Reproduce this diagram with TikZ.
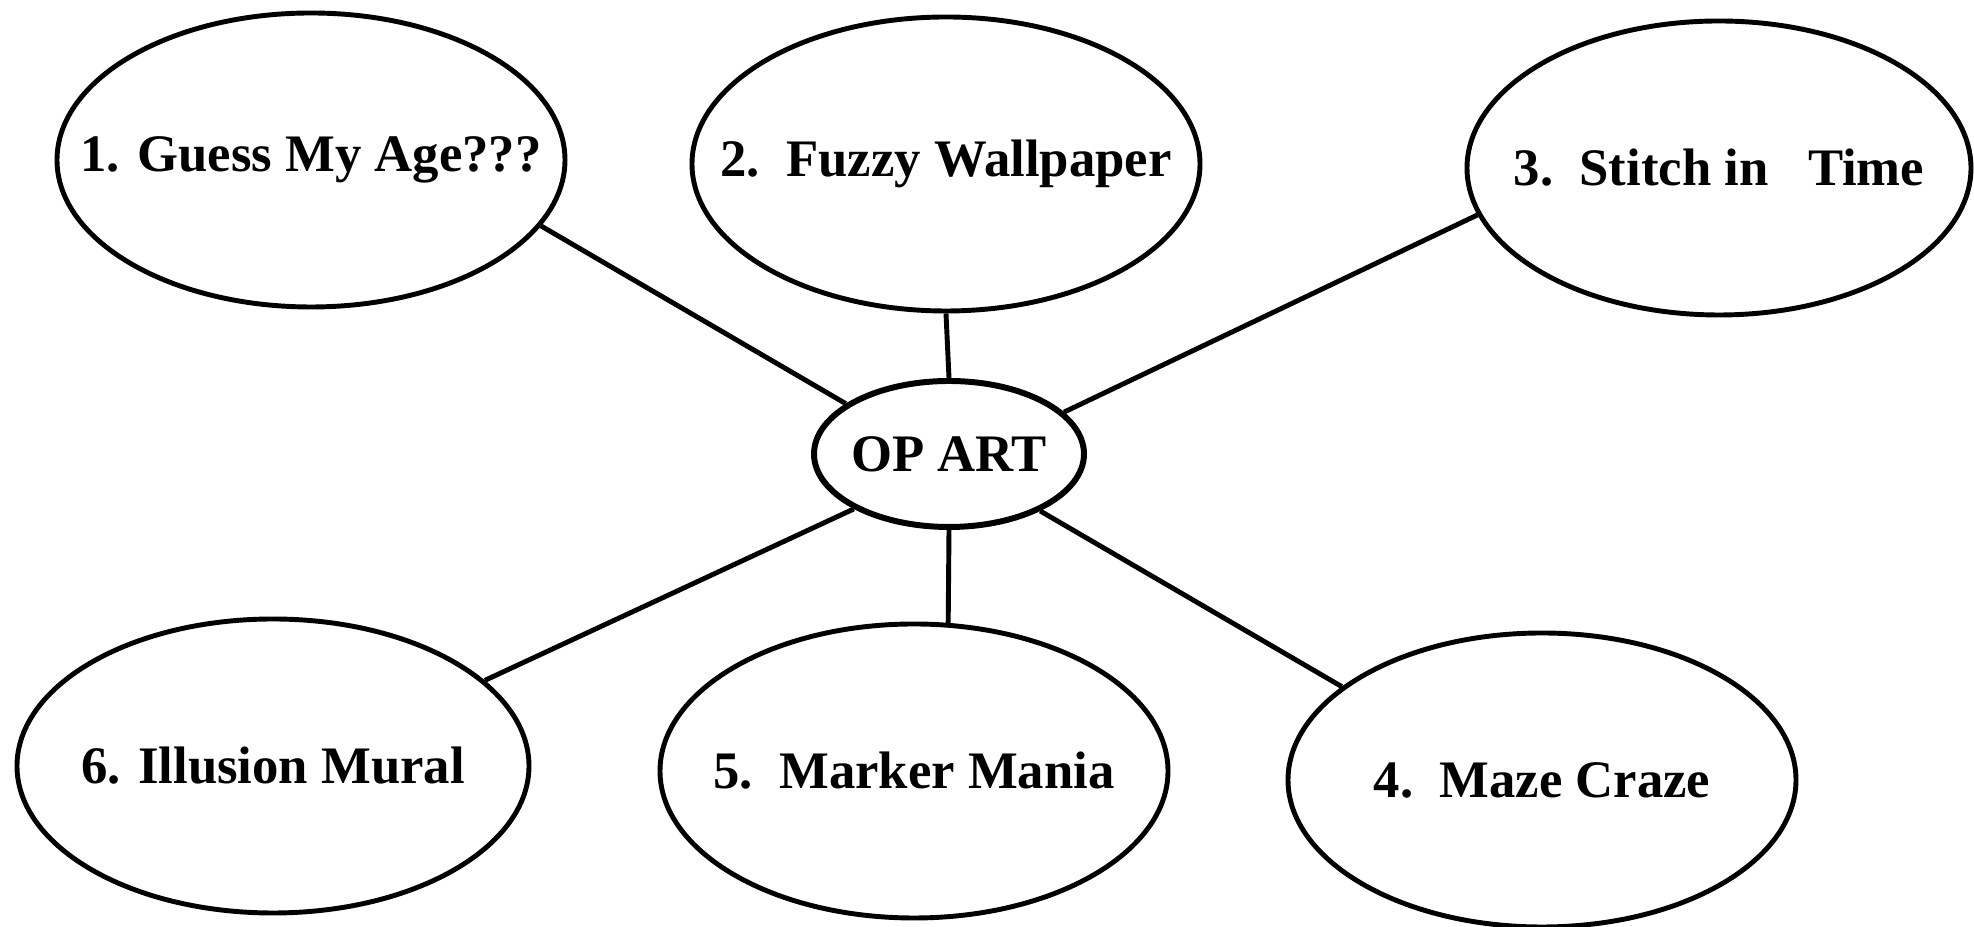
\documentclass[tikz,border=0pt]{standalone}
\usepackage{fontspec}
\setmainfont{Liberation Serif}
\usetikzlibrary{shapes.geometric}

\newcommand{\nowidth}[1]{\makebox[0pt]{#1}}

\begin{document}
\begin{tikzpicture}[
    topic/.style={draw, ellipse, line width=1.4pt, inner sep=0pt,
        minimum width=5.08cm, minimum height=2.94cm,
        font=\fontsize{15}{18}\selectfont\bfseries},
    hub/.style={draw, ellipse, line width=1.7pt, inner sep=0pt,
        minimum width=2.70cm, minimum height=1.46cm,
        font=\fontsize{15}{18}\selectfont\bfseries},
    link/.style={line width=1.4pt}]
    \useasboundingbox (0,0) rectangle (19.74,9.27);

    \node[hub] (opart) at (9.49,4.73) {\nowidth{OP ART}};

    \node[topic] (guess) at (3.11,7.67) {\nowidth{1. Guess My Age???}};
    \node[topic] (fuzzy) at (9.46,7.63) {\nowidth{2.~~Fuzzy Wallpaper}};
    \node[topic, minimum width=5.04cm] (stitch) at (17.19,7.59) {\nowidth{3.~~Stitch in~~~Time}};
    \node[topic] (maze) at (15.42,1.47) {\nowidth{4.~~Maze Craze}};
    \node[topic] (marker) at (9.14,1.56) {\nowidth{5.~~Marker Mania}};
    \node[topic, minimum width=5.12cm] (mural) at (2.73,1.61) {\nowidth{6. Illusion Mural}};

    \draw[link] (guess.-16) -- (opart.154);
    \draw[link] (fuzzy.south) -- (opart.north);
    \draw[link] (stitch.-169) -- (opart.20);
    \draw[link] (opart.-32) -- (maze.155);
    \draw[link] (opart.south) -- (marker.77);
    \draw[link] (opart.-150) -- (mural.22);
\end{tikzpicture}
\end{document}
